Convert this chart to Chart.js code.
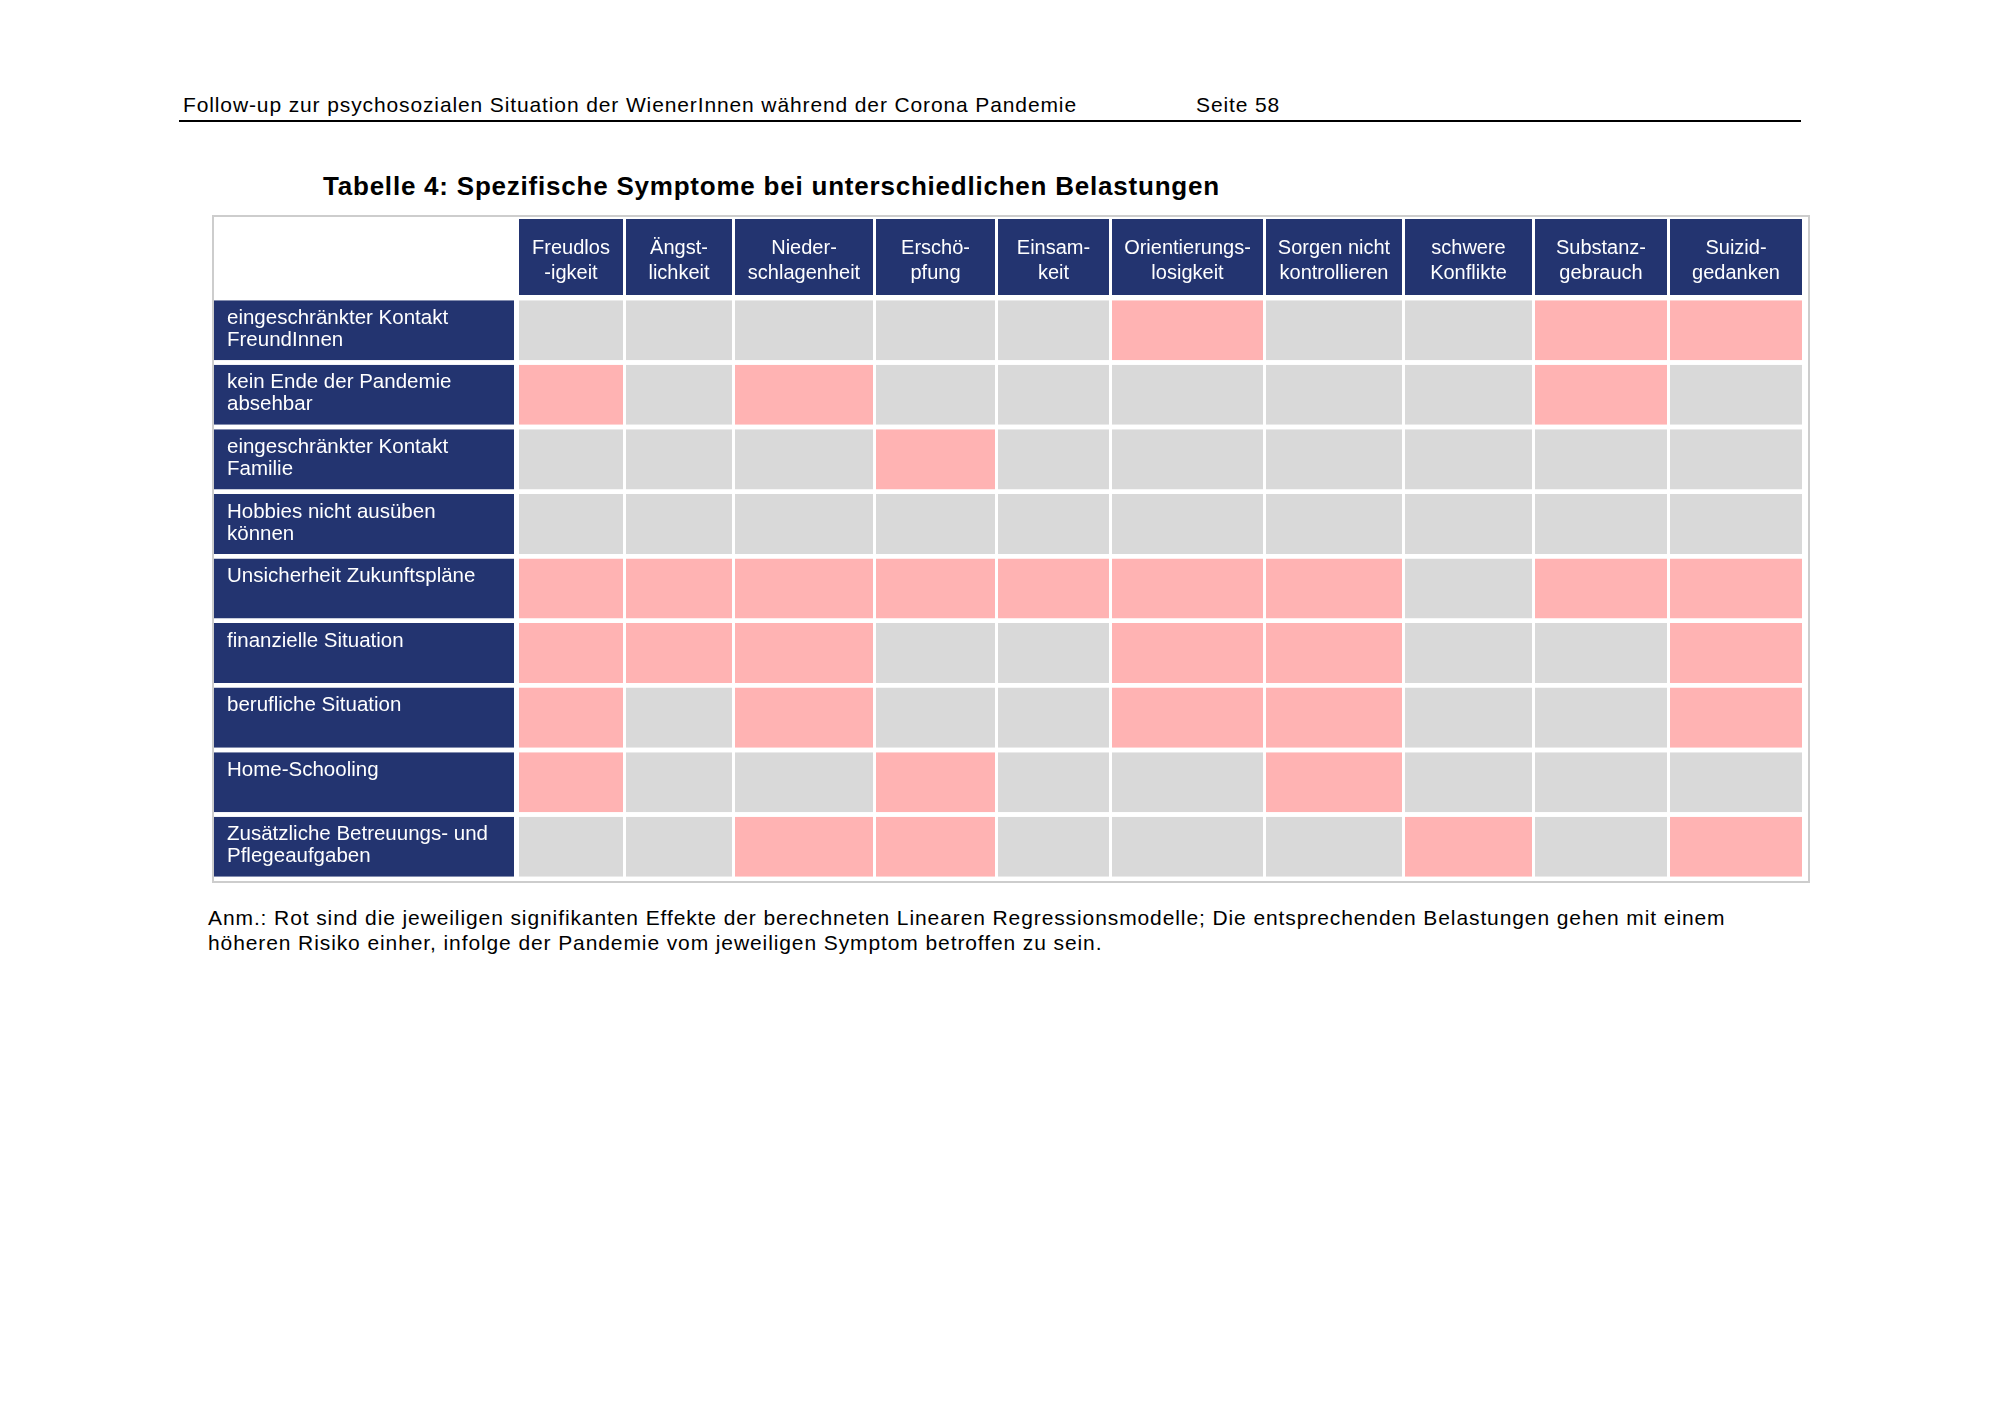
<!DOCTYPE html>
<html>
<head>
<meta charset="utf-8">
<script src="https://cdn.jsdelivr.net/npm/chart.js@4.4.1/dist/chart.umd.min.js"></script>
<style>
  body { margin: 0; width: 2000px; height: 1414px; background: #fff; position: relative; font-family: "Liberation Sans", Arial, sans-serif; color: #000; }
  .abs { position: absolute; white-space: nowrap; }
  #pagehead { left: 183px; top: 93px; font-size: 21px; line-height: 24px; letter-spacing: 0.88px; }
  #seite { left: 1196px; top: 93px; font-size: 21px; line-height: 24px; letter-spacing: 0.88px; }
  #rule { left: 179px; top: 120px; width: 1622px; height: 0; border-top: 2px solid #000; }
  #title { left: 323px; top: 171px; font-size: 26px; line-height: 30px; font-weight: bold; letter-spacing: 0.78px; }
  #box { left: 212px; top: 215px; width: 1598px; height: 668px; border: 2px solid #cdcdcd; box-sizing: border-box; }
  #box canvas { position: absolute; left: 0; top: 0; }
  #note { left: 208px; top: 905px; font-size: 21px; line-height: 25px; letter-spacing: 0.9px; }
</style>
</head>
<body>
<div class="abs" id="pagehead">Follow-up zur psychosozialen Situation der WienerInnen während der Corona Pandemie</div>
<div class="abs" id="seite">Seite 58</div>
<div class="abs" id="rule"></div>
<div class="abs" id="title">Tabelle 4: Spezifische Symptome bei unterschiedlichen Belastungen</div>
<div class="abs" id="box"><canvas id="myChart" width="1594" height="664"></canvas></div>
<div class="abs" id="note">Anm.: Rot sind die jeweiligen signifikanten Effekte der berechneten Linearen Regressionsmodelle; Die entsprechenden Belastungen gehen mit einem<br>höheren Risiko einher, infolge der Pandemie vom jeweiligen Symptom betroffen zu sein.</div>

<script>
// column headers (symptoms)
const symptoms = [
  ['Freudlos', '-igkeit'],
  ['Ängst-', 'lichkeit'],
  ['Nieder-', 'schlagenheit'],
  ['Erschö-', 'pfung'],
  ['Einsam-', 'keit'],
  ['Orientierungs-', 'losigkeit'],
  ['Sorgen nicht', 'kontrollieren'],
  ['schwere', 'Konflikte'],
  ['Substanz-', 'gebrauch'],
  ['Suizid-', 'gedanken']
];

// row labels (Belastungen)
const stressors = [
  ['eingeschränkter Kontakt', 'FreundInnen'],
  ['kein Ende der Pandemie', 'absehbar'],
  ['eingeschränkter Kontakt', 'Familie'],
  ['Hobbies nicht ausüben', 'können'],
  ['Unsicherheit Zukunftspläne'],
  ['finanzielle Situation'],
  ['berufliche Situation'],
  ['Home-Schooling'],
  ['Zusätzliche Betreuungs- und', 'Pflegeaufgaben']
];

// 1 = significant effect (red), 0 = not significant (grey)
const significant = [
  [0, 0, 0, 0, 0, 1, 0, 0, 1, 1],
  [1, 0, 1, 0, 0, 0, 0, 0, 1, 0],
  [0, 0, 0, 1, 0, 0, 0, 0, 0, 0],
  [0, 0, 0, 0, 0, 0, 0, 0, 0, 0],
  [1, 1, 1, 1, 1, 1, 1, 0, 1, 1],
  [1, 1, 1, 0, 0, 1, 1, 0, 0, 1],
  [1, 0, 1, 0, 0, 1, 1, 0, 0, 1],
  [1, 0, 0, 1, 0, 0, 1, 0, 0, 0],
  [0, 0, 1, 1, 0, 0, 0, 1, 0, 1]
];

// layout only: width of the label column and of each symptom column
const labelWidth = 305;
const colWidths = [107, 109, 141, 122, 114, 154, 139, 130, 135, 135];

const NAVY = '#233470';
const GREY = '#d9d9d9';
const RED = '#ffb3b3';
const FONT = '"Liberation Sans", Arial, sans-serif';

let datasets = [];
datasets.push({
  label: 'labels',
  data: stressors.map(() => labelWidth),
  backgroundColor: NAVY,
  borderColor: '#fff',
  borderWidth: { right: 5, left: 0, top: 0, bottom: 0 },
  borderSkipped: false
});
symptoms.forEach((s, c) => {
  datasets.push({
    label: s.join(' '),
    data: stressors.map(() => colWidths[c]),
    backgroundColor: significant.map(row => row[c] ? RED : GREY),
    borderColor: '#fff',
    borderWidth: { right: 3, left: 0, top: 0, bottom: 0 },
    borderSkipped: false
  });
});

const totalWidth = labelWidth + colWidths.reduce((a, b) => a + b, 0);

// header row + row label texts
const tableText = {
  id: 'tableText',
  afterDatasetsDraw(chart) {
    const ctx = chart.ctx;
    const x = chart.scales.x;
    ctx.save();
    ctx.textBaseline = 'middle';

    // header cells
    let start = labelWidth;
    symptoms.forEach((s, c) => {
      const left = x.getPixelForValue(start);
      const right = x.getPixelForValue(start + colWidths[c]) - 3;
      ctx.fillStyle = NAVY;
      ctx.fillRect(left, 2, right - left, 76);
      ctx.fillStyle = '#fff';
      ctx.font = '20px ' + FONT;
      ctx.textAlign = 'center';
      s.forEach((line, i) => ctx.fillText(line, (left + right) / 2, 31 + i * 25));
      start += colWidths[c];
    });

    // row labels
    const meta = chart.getDatasetMeta(0);
    ctx.fillStyle = '#fff';
    ctx.textAlign = 'left';
    ctx.font = '20.5px ' + FONT;
    meta.data.forEach((bar, r) => {
      const top = bar.y - bar.height / 2;
      stressors[r].forEach((line, i) => ctx.fillText(line, x.getPixelForValue(0) + 13, top + 18 + i * 22));
    });
    ctx.restore();
  }
};

new Chart(document.getElementById('myChart').getContext('2d'), {
  type: 'bar',
  data: {
    labels: stressors.map(s => s.join(' ')),
    datasets: datasets
  },
  options: {
    indexAxis: 'y',
    responsive: false,
    animation: false,
    layout: { padding: { top: 81, bottom: 2, left: 0, right: 3 } },
    barPercentage: 0.93,
    categoryPercentage: 1,
    scales: {
      x: { stacked: true, min: 0, max: totalWidth, display: false },
      y: { stacked: true, display: false }
    },
    plugins: {
      legend: { display: false },
      tooltip: { enabled: false }
    }
  },
  plugins: [tableText]
});
</script>
</body>
</html>
